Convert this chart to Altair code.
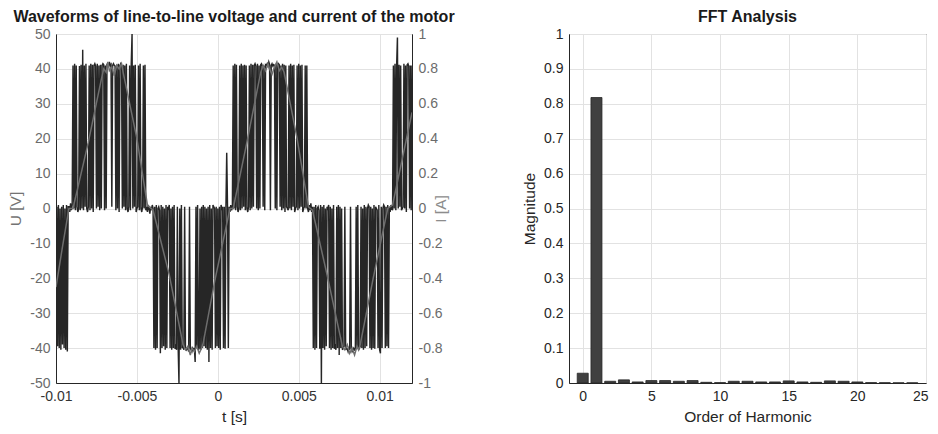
import altair as alt
import pandas as pd

# ---------------- data ----------------
# line-to-line voltage, sampled every DT seconds starting at T0
T0 = -0.01
DT = 0.00005
U_V = [
    # negative half-cycle (tail)
    -40, 0.5, -39.5, 1, -40, 0, -40.5, 0.5, -39, 1,
    -40, 0, -40.5, 1, -41, 0.5,
    # zero interval
    0.5, -1, 1.5, -0.5, 1,
    # positive half-cycle 1
    41, 0, 41.5, -0.5, 41, 0.5, -1, 0, 40.8, -0.5,
    41.2, 0, 45.5, -0.5, 41, 0.5, 41.5, 0, -1, 0.5,
    41, -0.5, 41.5, 0, 41.2, -1, 41, 41.5, 40.8, 0,
    41.5, 0.5, 41, -0.5, 41.2, 0, 41, 41.5, 41.2, -0.5,
    41, 0, 41.5, 41, 40.8, 42, 41, 41.3, 0.5, 41,
    41.5, 41, 40.8, -0.5, 41.2, 0, 41.5, -1, 41, 41.5,
    40.8, 0, 41.2, 0.5, 41, -0.5, 41.5, 0, -1, 0.5,
    41, -0.5, 41.5, 50, 0, 41, 0.5, 41.2, -1, 0,
    0.5, 41, -0.5, 41.5, 0, -1, 0.5, 41, 0, 41.2, -0.5,
    # zero interval
    0.5, -1, 1, 0, -1.5, 0.5, -0.5, 1, 0,
    # negative half-cycle 2
    -40, 0.5, -40.5, 1, -40, 0, 0.5, -0.5, -41.5, 1,
    -40, 0.5, -39.5, 0, -40.5, 1, -40, 0.5, 0, 1,
    -40, 0, -40.5, 0.5, -40, 1, -40.2, -39.5, -40.5, 0.5,
    -40, -50, 0, -40.5, 1, -40, -39.5, -40.5, 0.5, -40,
    -40.5, -40, -40.2, -41, 0.5, -40, -40.5, -41, -40, -40.5,
    -40, -44, 0.5, -40, 1, -40.5, -40, 0, -40.5, 0.5,
    -40, 1, -39.5, 0.5, -40, 0, -40.5, 0.5, -44, 1,
    -40, 0, -40.5, 1, 0.5, 0, -40, 0.5, -39.5, 0,
    -40, 0.5, -40.5, 1, 0, 0.5, -40, 0.5, -40.2, 0, 16, 0.5, -40,
    # zero interval
    0.5, -1, 1, -0.5, 0.5,
    # positive half-cycle 2
    41, 0, 41.5, -0.5, 41.2, 0.5, -1, 0, 41, -0.5,
    41.5, 0, 41, 0.5, 41.2, -0.5, 41, 0, -1, 0.5,
    41, -0.5, 41.5, 0, 41.2, 0.5, 41, 41.5, 40.8, 0,
    41.5, -0.5, 41, 0, 41.2, 41.5, 40.8, 0.5, 41, -0.5,
    41.2, 41, 41.5, 40.8, 42, 41.3, -0.5, 41, 41.5, 40.8,
    41.2, 41, 0, 41.5, -0.5, 41, 41.5, 41.2, 0.5, 41,
    -0.5, 41.5, 0, 41.2, -1, 41, 0.5, 0, -0.5, 41,
    0, 41.5, -0.5, 41, 0.5, 41.2, -1, 0, 0.5, 41,
    -0.5, 41.5, 0, 41, 0.5, 41.2, -1, 0, 0.5, 41, 0, 41,
    # zero interval
    0, -1, 1, -0.5, 1.5, -1, 0.5,
    # negative half-cycle 3
    -40, 0.5, -40.5, 1, -40, 0, 0.5, -0.5, -40.2, 1,
    -50, 0.5, -40, 1, -40.5, 0, -39.5, 0.5, 0, 1,
    -40, 0.5, -40.5, 0, -40, 1, -40.2, -39.5, -40.5, 0.5,
    -40, 1, -42, 0.5, -40, 0, -40.5, -40, -39.5, 0.5,
    -40.5, -40, -40.2, -41, -40, -40.5, 0.5, -40, -41, -40.5,
    -40, -40.5, -40.2, 0.5, -40, 1, -40.5, -40, -39.5, 0.5,
    -40, 0, -40.5, 1, -40, 0.5, -39.5, 0, 1, 0.5,
    -40, 0.5, -40.5, 0, -40, 1, -40.2, 0.5, 0, -0.5,
    -40, 1, -40.5, -41.5, 0.5, -40, 0, 1, 0.5, -40, 0.5, -39.5, 1, -40,
    # zero interval
    0.5, -1, 1, 0, -0.5,
    # positive half-cycle 3 (start)
    41, 0, 41.5, -0.5, 41, 49, 0, 41.2, 0.5, 41,
    -0.5, 0, 0.5, 41.5, 0, 41, -1, 41.2, 41.5, 40.8,
    0, 41, -0.5, 41,
]

# motor current (read at irregular instants)
I_T = [
    -0.01000, -0.00960, -0.00920, -0.00895,
    -0.00800, -0.00720, -0.00705, -0.00690, -0.00680, -0.00670, -0.00655,
    -0.00640, -0.00625, -0.00610, -0.00595, -0.00585,
    -0.00500, -0.00435, -0.00400,
    -0.00300, -0.00215, -0.00200, -0.00185, -0.00170, -0.00160, -0.00145,
    -0.00130, -0.00115, -0.00100, -0.00090,
    -0.00020, 0.00075, 0.00095,
    0.00180, 0.00265, 0.00280, 0.00295, 0.00310, 0.00320, 0.00335,
    0.00350, 0.00365, 0.00380, 0.00395, 0.00410,
    0.00490, 0.00560, 0.00585,
    0.00680, 0.00770, 0.00785, 0.00800, 0.00815, 0.00830, 0.00845,
    0.00860, 0.00870, 0.00880,
    0.00960, 0.01050, 0.01080,
    0.01200,
]
I_A = [
    -0.45, -0.22, 0.0, 0.0,
    0.38, 0.74, 0.80, 0.78, 0.84, 0.79, 0.81,
    0.76, 0.82, 0.80, 0.83, 0.78,
    0.40, 0.02, -0.01,
    -0.38, -0.78, -0.81, -0.79, -0.84, -0.80, -0.82,
    -0.79, -0.83, -0.80, -0.77,
    -0.42, 0.0, 0.0,
    0.38, 0.78, 0.82, 0.79, 0.83, 0.80, 0.77,
    0.81, 0.84, 0.79, 0.81, 0.78,
    0.40, 0.01, -0.01,
    -0.40, -0.79, -0.81, -0.78, -0.83, -0.80, -0.84,
    -0.79, -0.81, -0.78,
    -0.40, 0.0, 0.02,
    0.55,
]

# FFT of the current
HARMONIC = [0, 1, 2, 3, 4, 5, 6, 7, 8, 9, 10, 11, 12, 13, 14, 15, 16, 17, 18, 19, 20, 21, 22, 23, 24]
MAGNITUDE = [0.028, 0.818, 0.005, 0.009, 0.003, 0.007, 0.007, 0.005, 0.007, 0.002,
             0.001, 0.005, 0.005, 0.003, 0.003, 0.006, 0.003, 0.002, 0.006, 0.005,
             0.003, 0.001, 0.0008, 0.0005, 0.0005]

T_TICKS = [-0.01, -0.005, 0, 0.005, 0.01]
U_TICKS = [-50, -40, -30, -20, -10, 0, 10, 20, 30, 40, 50]
I_TICKS = [-1, -0.8, -0.6, -0.4, -0.2, 0, 0.2, 0.4, 0.6, 0.8, 1]
H_TICKS = [0, 5, 10, 15, 20, 25]
M_TICKS = [0, 0.1, 0.2, 0.3, 0.4, 0.5, 0.6, 0.7, 0.8, 0.9, 1]

# ---------------- frames ----------------
vdf = pd.DataFrame({"t": [T0 + k * DT for k in range(len(U_V))], "u": U_V})
idf = pd.DataFrame({"t": I_T, "i": I_A})
fdf = pd.DataFrame({"h": HARMONIC, "m": MAGNITUDE})

FONT = "Liberation Sans"
LBL = "toString(datum.value)"

x_t = alt.X(
    "t:Q",
    scale=alt.Scale(domain=[-0.01, 0.012], nice=False, zero=False),
    axis=alt.Axis(values=T_TICKS, labelExpr=LBL, title="t [s]", grid=True,
                  labelColor="#333333", titleColor="#262626"),
)

volt = alt.Chart(vdf).mark_line(color="#262626", strokeWidth=1.45, clip=True).encode(
    x=x_t,
    y=alt.Y("u:Q", scale=alt.Scale(domain=[-50, 50], nice=False),
            axis=alt.Axis(values=U_TICKS, labelExpr=LBL, title="U [V]", orient="left",
                          grid=True, labelColor="#6b6b6b", titleColor="#737373")),
)

cur = alt.Chart(idf).mark_line(color="#6e6e6e", strokeWidth=1.5, clip=True).encode(
    x=x_t,
    y=alt.Y("i:Q", scale=alt.Scale(domain=[-1, 1], nice=False),
            axis=alt.Axis(values=I_TICKS, labelExpr=LBL, title="I [A]", orient="right",
                          titleAngle=270, grid=False, labelColor="#6b6b6b",
                          titleColor="#8c8c8c")),
)

left = alt.layer(volt, cur).resolve_scale(y="independent").properties(
    width=356, height=349,
    title=alt.TitleParams("Waveforms of line-to-line voltage and current of the motor"),
)

bars = alt.Chart(fdf).mark_bar(size=11, color="#404040", stroke="#262626", strokeWidth=0.8).encode(
    x=alt.X("h:Q", scale=alt.Scale(domain=[-1, 25], nice=False, zero=False, padding=0),
            axis=alt.Axis(values=H_TICKS, labelExpr=LBL, title="Order of Harmonic", grid=True,
                          labelFlush=True, labelFlushOffset=2)),
    y=alt.Y("m:Q", scale=alt.Scale(domain=[0, 1], nice=False, padding=0),
            axis=alt.Axis(values=M_TICKS, labelExpr=LBL, title="Magnitude", grid=True)),
)

right = bars.properties(width=357, height=349, title=alt.TitleParams("FFT Analysis"))

chart = alt.hconcat(left, right, spacing=66).properties(padding=0).configure_view(
    stroke="#262626", strokeWidth=1
).configure_axis(
    labelFont=FONT, titleFont=FONT, labelFontSize=14, titleFontSize=15.5,
    titleFontWeight="normal", ticks=False, labelPadding=6, titlePadding=6,
    domainColor="#262626", gridColor="#e2e2e2", gridWidth=1,
    labelColor="#262626", titleColor="#262626", labelFlush=False, labelOverlap=False,
).configure_title(
    font=FONT, fontSize=16, fontWeight="bold", color="#1a1a1a", anchor="middle", offset=2,
)

chart.save("out.html", embed_options={"renderer": "svg", "actions": False})
